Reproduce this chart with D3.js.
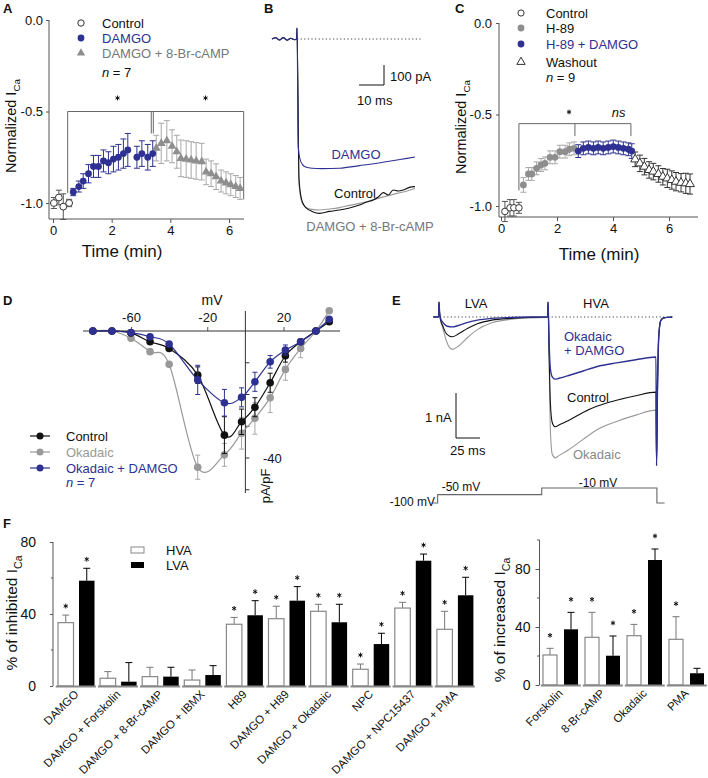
<!DOCTYPE html>
<html><head><meta charset="utf-8">
<script src="https://cdn.jsdelivr.net/npm/d3@7"></script>
<style>
body{margin:0;background:#fff;}
svg{display:block;font-family:"Liberation Sans",Arial,Helvetica,sans-serif;}
</style></head><body>
<svg id="fig" width="708" height="778"></svg>
<script>
// ================= DATA =================
// Panel A
const aXTicks=[0,2,4,6];
const aYTicks=[0,-0.5,-1.0];
const aCtrlT=[0.03,0.2,0.35,0.55];
const aCtrlV=[-1.0,-0.97,-1.02,-1.0];
const aCtrlE=[0.03,0.04,0.07,0.02];
const aDamT=[0.69,0.88,1.03,1.21,1.38,1.55,1.72,1.89,2.06,2.23,2.40,2.55,2.86,3.03,3.23,3.40];
const aDamV=[-0.94,-0.91,-0.88,-0.84,-0.80,-0.80,-0.77,-0.78,-0.76,-0.75,-0.73,-0.71,-0.75,-0.73,-0.75,-0.73];
const aDamE=[0.02,0.03,0.04,0.05,0.06,0.06,0.06,0.06,0.07,0.07,0.08,0.09,0.06,0.07,0.07,0.07];
const aCampT=[3.52,3.69,3.88,4.06,4.22,4.36,4.54,4.71,4.88,5.07,5.22,5.39,5.56,5.73,5.90,6.06,6.23,6.38];
const aCampV=[-0.70,-0.674,-0.66,-0.69,-0.72,-0.756,-0.76,-0.765,-0.77,-0.774,-0.83,-0.84,-0.856,-0.88,-0.89,-0.90,-0.91,-0.92];
const aCampE=[0.07,0.11,0.11,0.09,0.09,0.10,0.10,0.10,0.10,0.10,0.07,0.07,0.07,0.06,0.06,0.06,0.06,0.06];
// Panel B (ms, pA)
const bBaseT=[-10,-8.5,-7,-5.5,-4,-2.5,-1,-0.2];
const bBaseI=[0,6,-5,7,-6,4,-3,0];
const bDamT=[0,0.5,1.2,2.2,3.5,6,10,17,25,30,35,40,44,47.2];
const bDamI=[55,-540,-600,-628,-640,-646,-648,-646,-633,-625,-615,-605,-597,-590];
const bCtrlT=[0,0.8,1.8,3,4,6,9,13,17,21,25,28,30.5,32.5,34.5,36.5,38.5,40.5,42.5,45,47.2];
const bCtrlI=[55,-700,-800,-835,-848,-862,-872,-862,-855,-845,-830,-815,-805,-790,-768,-780,-755,-760,-755,-742,-738];
const bCampT=[0,0.8,1.8,3,4,6,9,13,17,21,25,30,35,40,44,47.2];
const bCampI=[55,-720,-810,-835,-845,-852,-855,-850,-843,-832,-822,-805,-788,-772,-760,-747];
// Panel C
const cXTicks=[0,2,4,6];
const cYTicks=[0,-0.5,-1.0];
const cCtrlT=[0.14,0.32,0.46,0.64];
const cCtrlV=[-1.03,-1.01,-1.01,-1.01];
const cCtrlE=[0.055,0.045,0.045,0.03];
const cH89T=[0.80,0.98,1.10,1.27,1.43,1.57,1.75,1.93,2.10,2.29,2.44,2.61];
const cH89V=[-0.885,-0.825,-0.825,-0.794,-0.776,-0.767,-0.734,-0.734,-0.703,-0.703,-0.69,-0.685];
const cH89E=[0.04,0.035,0.035,0.035,0.035,0.035,0.035,0.035,0.035,0.035,0.035,0.035];
const cDamT=[2.76,2.94,3.12,3.30,3.47,3.65,3.83,4.01,4.19,4.37,4.55,4.67];
const cDamV=[-0.70,-0.685,-0.68,-0.685,-0.68,-0.685,-0.68,-0.675,-0.68,-0.685,-0.69,-0.70];
const cDamE=[0.035,0.035,0.035,0.035,0.035,0.035,0.035,0.035,0.035,0.035,0.035,0.04];
const cWashT=[4.79,4.96,5.12,5.29,5.44,5.62,5.78,5.94,6.10,6.25,6.43,6.60,6.75];
const cWashV=[-0.745,-0.767,-0.785,-0.803,-0.812,-0.825,-0.84,-0.849,-0.858,-0.867,-0.873,-0.876,-0.88];
const cWashE=[0.04,0.045,0.045,0.045,0.045,0.045,0.045,0.05,0.05,0.05,0.05,0.055,0.055];
// Panel D (mV, pA/pF)
const dXTicks=[-60,-20,20];
const dYTicks=[-10,-20,-30,-40,-50];
const dV=[-80,-70,-60,-50,-40,-25,-11,-2,5,13,21,29,37,44];
const dCtrl=[0,0,-0.6,-3.4,-5.5,-13.9,-32.8,-28.6,-24,-16.3,-7.8,-3.4,0,2.9];
const dCtrlE=[0,0,0,0,0,2.6,5.8,4,3,3,2,0,0,0];
const dOka=[0,0,-2.3,-6.5,-10.5,-42.9,-39,-32.2,-27.5,-21,-12.1,-5.5,0,6.4];
const dOkaE=[0,0,0,0,0,3.8,3.6,5,5,4.7,3.4,2.9,0,0];
const dOkaDam=[0,0,-0.5,-1.8,-4.1,-15.4,-22.6,-20.9,-16,-9.7,-6,-3.4,0,3.7];
const dOkaDamE=[0,0,0,0,0,4.6,4.2,3,3,2,1.6,0,0,0];
// Panel E (ms, nA)
const eLvaT=[-6,-0.5,0,0.6,1.5,4,8,14,20,30,40,55,75,95,112.5];
const eLvaBlue=[0,0,0.33,0.1,-0.02,-0.12,-0.2,-0.22,-0.19,-0.12,-0.07,-0.03,-0.01,0,0];
const eLvaBlack=[0,0,0.33,0.1,-0.05,-0.2,-0.38,-0.44,-0.38,-0.25,-0.15,-0.07,-0.03,-0.01,0];
const eLvaGray=[0,0,0.33,0.1,-0.06,-0.25,-0.55,-0.72,-0.65,-0.45,-0.28,-0.13,-0.05,-0.02,-0.01];
const eHvaT=[113,113.6,114.6,116,118,121,125,135,150,165,185,205,226,226.6,227.6,229,231,234,243];
const eHvaBlue=[0,0.33,-0.5,-1.15,-1.33,-1.38,-1.36,-1.3,-1.2,-1.1,-1.02,-0.95,-0.89,-3.3,-1.6,-0.4,-0.08,-0.02,0];
const eHvaBlack=[0,0.33,-0.7,-1.9,-2.35,-2.44,-2.4,-2.3,-2.12,-1.98,-1.85,-1.75,-1.67,-3.3,-1.6,-0.4,-0.08,-0.02,0];
const eHvaGray=[-0.01,0.33,-0.8,-2.5,-3.05,-3.13,-3.08,-2.95,-2.72,-2.5,-2.32,-2.18,-2.07,-3.3,-1.6,-0.4,-0.08,-0.02,0];
const eProtT=[-7,-1.4,-1.4,107,107,227,227,235];
const eProtV=[-100,-100,-50,-50,-10,-10,-100,-100];
// Panel F
const fLCats=["DAMGO","DAMGO + Forskolin","DAMGO + 8-Br-cAMP","DAMGO + IBMX","H89","DAMGO + H89","DAMGO + Okadaic","NPC","DAMGO + NPC15437","DAMGO + PMA"];
const fLHva=[35.2,4.3,5.2,3.3,34.3,37.4,41.5,9.3,43.3,31.5];
const fLHvaE=[4.2,3.7,5.2,5.6,3.8,6.9,3.9,2.9,3.2,10];
const fLLva=[58.5,2.4,5.2,6.1,39.3,47.4,35.4,23.3,69.6,50.4];
const fLLvaE=[6.9,10.6,5.2,5.2,8.1,7.8,10,6,3.7,10];
const fLHvaSig=[1,0,0,0,1,1,1,1,1,1];
const fLLvaSig=[1,0,0,0,1,1,1,1,1,1];
const fLTicks=[0,40,80];
const fRCats=["Forskolin","8-Br-cAMP","Okadaic","PMA"];
const fRHva=[20.7,32.9,34,31.5];
const fRHvaE=[4.6,17.2,7.8,15.6];
const fRLva=[38.4,20.2,86.2,8.1];
const fRLvaE=[11.7,13.6,7.6,3.4];
const fRHvaSig=[1,1,1,1];
const fRLvaSig=[1,1,1,0];
const fRTicks=[0,40,80];

// ================= HELPERS =================
const BLUE="#2e3192", GRAY="#8e8e8e", LGRAY="#a8a8a8", AXC="#555";
const svg=d3.select("#fig");
svg.append("rect").attr("width",708).attr("height",778).attr("fill","#fff");

function styleAxis(sel,size){
  sel.attr("font-family",null).attr("font-size",size||13);
  sel.select(".domain").remove();
  sel.selectAll(".tick line").attr("stroke",AXC);
  sel.selectAll(".tick text").attr("fill","#111");
}
function txt(g,x,y,s,o){
  o=o||{};
  const t=g.append("text").attr("x",x).attr("y",y).attr("font-size",o.size||13).attr("fill",o.fill||"#111").text(s);
  if(o.anchor) t.attr("text-anchor",o.anchor);
  if(o.weight) t.attr("font-weight",o.weight);
  if(o.style) t.attr("font-style",o.style);
  return t;
}
function nLabel(g,x,y,n,fill){
  const t=g.append("text").attr("x",x).attr("y",y).attr("font-size",13).attr("fill",fill||"#111");
  t.append("tspan").attr("font-style","italic").text("n");
  t.append("tspan").text(" = "+n);
}
function yLabel(g,x,y,main,sub,size){
  const t=g.append("text").attr("transform",`translate(${x},${y}) rotate(-90)`).attr("text-anchor","middle").attr("font-size",size).attr("fill","#111");
  t.append("tspan").text(main);
  if(sub) t.append("tspan").text(sub).attr("font-size",size*0.68).attr("dy",size*0.3);
}
function line(g,x1,y1,x2,y2,c,w){
  return g.append("line").attr("x1",x1).attr("y1",y1).attr("x2",x2).attr("y2",y2).attr("stroke",c||AXC).attr("stroke-width",w||1);
}
function zip(ts,vs,es){return ts.map((t,i)=>({t:t,v:vs[i],e:es?es[i]:0}));}
function errBars(g,data,x,y,color,cap){
  const h=cap||2.5;
  const gg=g.append("g").attr("stroke",color).attr("stroke-width",1).attr("fill","none");
  data.filter(d=>d.e>0).forEach(d=>{
    const cx=x(d.t), y1=y(d.v-d.e), y2=y(d.v+d.e);
    gg.append("line").attr("x1",cx).attr("x2",cx).attr("y1",y1).attr("y2",y2);
    gg.append("line").attr("x1",cx-h).attr("x2",cx+h).attr("y1",y1).attr("y2",y1);
    gg.append("line").attr("x1",cx-h).attr("x2",cx+h).attr("y1",y2).attr("y2",y2);
  });
}
function dots(g,data,x,y,r,fill,stroke){
  g.append("g").selectAll("circle").data(data).join("circle")
    .attr("cx",d=>x(d.t)).attr("cy",d=>y(d.v)).attr("r",r)
    .attr("fill",fill).attr("stroke",stroke||"none").attr("stroke-width",1);
}
function tris(g,data,x,y,size,fill,stroke){
  const sym=d3.symbol().type(d3.symbolTriangle).size(size);
  g.append("g").selectAll("path").data(data).join("path")
    .attr("d",sym).attr("transform",d=>`translate(${x(d.t)},${y(d.v)})`)
    .attr("fill",fill).attr("stroke",stroke||"none").attr("stroke-width",1);
}
// small asterisk drawn as strokes (centre x,y)
function star(g,x,y){
  const r=2.4, p=[];
  for(let k=0;k<3;k++){
    const a=Math.PI/2+k*Math.PI/3, dx=r*Math.cos(a), dy=r*Math.sin(a);
    p.push(`M${x-dx},${y-dy}L${x+dx},${y+dy}`);
  }
  g.append("path").attr("d",p.join("")).attr("stroke","#111").attr("stroke-width",1).attr("fill","none");
}

// ================= PANEL A =================
{
  const g=svg.append("g");
  const x=d3.scaleLinear().domain([0,6]).range([53,229]);
  const y=d3.scaleLinear().domain([-1,0]).range([203,20]);
  line(g,49,219,244,219);
  line(g,49,20,49,219);
  g.append("g").attr("transform","translate(0,219)")
    .call(d3.axisBottom(x).tickValues(aXTicks).tickSize(4).tickPadding(3).tickFormat(d=>String(d))).call(styleAxis);
  g.append("g").attr("transform","translate(49,0)")
    .call(d3.axisLeft(y).tickValues(aYTicks).tickSize(3).tickPadding(3).tickFormat(d=>d.toFixed(1))).call(styleAxis);
  // bracket
  g.append("path").attr("d",`M${x(0.5)},${y(-0.945)}V${y(-0.5)}H${x(6.5)}V${y(-0.98)}`).attr("fill","none").attr("stroke","#666");
  line(g,x(3.35),y(-0.5),x(3.35),y(-0.62),"#666");
  line(g,x(3.42),y(-0.5),x(3.42),y(-0.62),"#666");
  star(g,x(2.2),98); star(g,x(5.2),98);
  const ctrl=zip(aCtrlT,aCtrlV,aCtrlE), dam=zip(aDamT,aDamV,aDamE), camp=zip(aCampT,aCampV,aCampE);
  errBars(g,camp,x,y,LGRAY,3);
  errBars(g,dam,x,y,BLUE,3);
  errBars(g,ctrl,x,y,"#555",3);
  tris(g,camp,x,y,34,GRAY);
  dots(g,dam,x,y,3.4,BLUE);
  dots(g,ctrl,x,y,3.4,"#fff","#333");
  // legend
  g.append("circle").attr("cx",81).attr("cy",23).attr("r",3.2).attr("fill","#fff").attr("stroke","#333");
  g.append("circle").attr("cx",81).attr("cy",38).attr("r",3.4).attr("fill",BLUE);
  g.append("path").attr("d",d3.symbol().type(d3.symbolTriangle).size(30)).attr("transform","translate(81,53)").attr("fill",GRAY);
  txt(g,102,28,"Control");
  txt(g,102,43,"DAMGO",{fill:BLUE});
  txt(g,102,58,"DAMGO + 8-Br-cAMP",{fill:"#777"});
  nLabel(g,102,77,7);
  txt(g,122,257,"Time (min)",{size:17,anchor:"middle"});
  yLabel(g,16,126,"Normalized I","Ca",14.5);
  txt(g,3,13,"A",{weight:"bold",size:13});
}

// ================= PANEL B =================
{
  const g=svg.append("g");
  const x=d3.scaleLinear().domain([0,10]).range([297,322]);
  const y=d3.scaleLinear().domain([0,-100]).range([39,59]);
  const ln=d3.line().x(d=>x(d.t)).y(d=>y(d.v)).curve(d3.curveMonotoneX);
  g.append("line").attr("x1",297).attr("x2",422).attr("y1",39).attr("y2",39).attr("stroke","#444").attr("stroke-dasharray","1.2,2.4");
  const base=zip(bBaseT,bBaseI);
  const tr=[[bCampT,bCampI,"#999"],[bCtrlT,bCtrlI,"#111"],[bDamT,bDamI,BLUE]];
  tr.forEach(([T,I,c])=>{
    g.append("path").attr("d",ln(base.concat(zip(T,I)))).attr("fill","none").attr("stroke",c).attr("stroke-width",1.1);
  });
  line(g,384,65,384,85,"#111"); line(g,359,85,384,85,"#111");
  txt(g,390,81,"100 pA");
  txt(g,357,105,"10 ms");
  txt(g,356,159,"DAMGO",{fill:BLUE,anchor:"middle"});
  txt(g,355,198,"Control",{anchor:"middle"});
  txt(g,370,231,"DAMGO + 8-Br-cAMP",{fill:"#777",anchor:"middle"});
  txt(g,264,13,"B",{weight:"bold",size:13});
}

// ================= PANEL C =================
{
  const g=svg.append("g");
  const x=d3.scaleLinear().domain([0,6]).range([501,669]);
  const y=d3.scaleLinear().domain([-1,0]).range([206,23]);
  line(g,499,217,698,217);
  line(g,499,23,499,217);
  g.append("g").attr("transform","translate(0,217)")
    .call(d3.axisBottom(x).tickValues(cXTicks).tickSize(4).tickPadding(3).tickFormat(d=>String(d))).call(styleAxis);
  g.append("g").attr("transform","translate(499,0)")
    .call(d3.axisLeft(y).tickValues(cYTicks).tickSize(3).tickPadding(4).tickFormat(d=>d.toFixed(1))).call(styleAxis);
  g.append("path").attr("d",`M${x(0.64)},${y(-0.915)}V${y(-0.55)}H${x(4.64)}V${y(-0.618)}`).attr("fill","none").attr("stroke","#666");
  line(g,x(2.64),y(-0.55),x(2.64),y(-0.618),"#666");
  star(g,x(2.43),112);
  txt(g,x(4.2),117,"ns",{style:"italic",anchor:"middle"});
  const ctrl=zip(cCtrlT,cCtrlV,cCtrlE), h89=zip(cH89T,cH89V,cH89E), dam=zip(cDamT,cDamV,cDamE), wash=zip(cWashT,cWashV,cWashE);
  errBars(g,ctrl,x,y,"#555",3);
  errBars(g,h89,x,y,LGRAY,3);
  errBars(g,dam,x,y,BLUE,3);
  errBars(g,wash,x,y,"#333",3);
  dots(g,ctrl,x,y,3.3,"#fff","#333");
  dots(g,h89,x,y,3.4,GRAY);
  dots(g,dam,x,y,3.4,BLUE);
  tris(g,wash,x,y,34,"#fff","#333");
  g.append("circle").attr("cx",521).attr("cy",13).attr("r",3.1).attr("fill","#fff").attr("stroke","#333");
  g.append("circle").attr("cx",521).attr("cy",28).attr("r",3.4).attr("fill",GRAY);
  g.append("circle").attr("cx",521).attr("cy",44).attr("r",3.4).attr("fill",BLUE);
  g.append("path").attr("d",d3.symbol().type(d3.symbolTriangle).size(30)).attr("transform","translate(521,62)").attr("fill","#fff").attr("stroke","#333");
  txt(g,546,18,"Control");
  txt(g,546,33,"H-89");
  txt(g,546,49,"H-89 + DAMGO",{fill:BLUE});
  txt(g,546,67,"Washout");
  nLabel(g,546,82,9);
  txt(g,599,260,"Time (min)",{size:17,anchor:"middle"});
  yLabel(g,466,127,"Normalized I","Ca",14.5);
  txt(g,455,13,"C",{weight:"bold",size:13});
}

// ================= PANEL D =================
{
  const g=svg.append("g");
  const x=d3.scaleLinear().domain([-60,20]).range([131,283.5]);
  const y=d3.scaleLinear().domain([0,-40]).range([331,458]);
  line(g,83,331,340,331,"#333");
  line(g,x(0),311,x(0),493,"#333");
  g.append("g").attr("transform","translate(0,331)")
    .call(d3.axisTop(x).tickValues(dXTicks).tickSize(4).tickPadding(5).tickFormat(d=>String(d))).call(styleAxis);
  dYTicks.forEach(v=>line(g,x(0),y(v),x(0)+4,y(v),"#333"));
  txt(g,263,463,"-40");
  txt(g,212,305,"mV",{size:14,anchor:"middle"});
  g.append("text").attr("transform",`translate(270,486) rotate(-90)`).attr("text-anchor","middle").attr("font-size",13).attr("fill","#111").text("pA/pF");
  const ln=d3.line().x(d=>x(d.t)).y(d=>y(d.v)).curve(d3.curveCardinal);
  const sets=[[dOka,dOkaE,"#999"],[dCtrl,dCtrlE,"#111"],[dOkaDam,dOkaDamE,BLUE]];
  sets.forEach(([V,E,c])=>{
    const data=zip(dV,V,E);
    errBars(g,data,x,y,c==="#999"?LGRAY:c,2.5);
    g.append("path").attr("d",ln(data)).attr("fill","none").attr("stroke",c).attr("stroke-width",1.2);
    dots(g,data,x,y,3.8,c);
  });
  [["Control","#111",436],["Okadaic","#999",452],["Okadaic + DAMGO",BLUE,468]].forEach(([s,c,yy])=>{
    line(g,30,yy,50,yy,c,1.2);
    g.append("circle").attr("cx",40).attr("cy",yy).attr("r",3.5).attr("fill",c);
    txt(g,66,yy+5,s,{fill:c});
  });
  nLabel(g,66,487,7,BLUE);
  txt(g,3,305,"D",{weight:"bold",size:13});
}

// ================= PANEL E =================
{
  const g=svg.append("g");
  const x=d3.scaleLinear().domain([0,25]).range([439,463]);
  const y=d3.scaleLinear().domain([0,-1]).range([317,362]);
  const vy=d3.scaleLinear().domain([-100,-10]).range([503,488]);
  g.append("line").attr("x1",440).attr("x2",672).attr("y1",317).attr("y2",317).attr("stroke","#444").attr("stroke-dasharray","1.2,2.4");
  const ln=d3.line().x(d=>x(d.t)).y(d=>y(d.v)).curve(d3.curveMonotoneX);
  [[eLvaGray,eHvaGray,"#999"],[eLvaBlack,eHvaBlack,"#111"],[eLvaBlue,eHvaBlue,BLUE]].forEach(([L,H,c])=>{
    const data=zip(eLvaT,L).concat(zip(eHvaT,H));
    g.append("path").attr("d",ln(data)).attr("fill","none").attr("stroke",c).attr("stroke-width",c===BLUE?1.4:1.1);
  });
  const prot=d3.line().x(d=>x(d.t)).y(d=>vy(d.v));
  g.append("path").attr("d",prot(zip(eProtT,eProtV))).attr("fill","none").attr("stroke","#666").attr("stroke-width",1.1);
  txt(g,435,506,"-100 mV",{size:12,anchor:"end"});
  txt(g,461,491,"-50 mV",{size:12,anchor:"middle"});
  txt(g,598,487,"-10 mV",{size:12,anchor:"middle"});
  line(g,456,393,456,438,"#111"); line(g,456,438,480,438,"#111");
  txt(g,425,422,"1 nA");
  txt(g,450,455,"25 ms");
  txt(g,476,308,"LVA",{anchor:"middle"});
  txt(g,596,308,"HVA",{anchor:"middle"});
  txt(g,564,341,"Okadaic",{fill:BLUE});
  txt(g,564,355,"+ DAMGO",{fill:BLUE});
  txt(g,567,402,"Control");
  txt(g,573,459,"Okadaic",{fill:"#888"});
  txt(g,392,305,"E",{weight:"bold",size:13});
}

// ================= PANEL F =================
function barPanel(g,cats,hva,hvaE,lva,lvaE,hSig,lSig,y,start,pitch,bw,off1,off2,starOff){
  cats.forEach((c,i)=>{
    const s=start+i*pitch;
    const xw=s+off1, xb=s+off2;
    [[xw,hva[i],hvaE[i],"#777",hSig[i]],[xb,lva[i],lvaE[i],"#000",lSig[i]]].forEach(([bx,v,e,col,sig])=>{
      const cx=bx+bw/2;
      line(g,cx,y(v),cx,y(v+e),col,1);
      line(g,cx-3.5,y(v+e),cx+3.5,y(v+e),col,1);
      if(sig) star(g,cx,y(v+e)-starOff);
    });
    g.append("rect").attr("x",xw).attr("y",y(hva[i])).attr("width",bw).attr("height",y(0)-y(hva[i])).attr("fill","#fff").attr("stroke","#888").attr("stroke-width",1.2);
    g.append("rect").attr("x",xb).attr("y",y(lva[i])).attr("width",bw).attr("height",y(0)-y(lva[i])).attr("fill","#000");
    line(g,s+0.8,y(0)+0.5,s+pitch-1.2,y(0)+0.5,"#888",2);
    const cx=(xw+xb+bw)/2;
    g.append("text").attr("transform",`translate(${cx+3},${y(0)+9}) rotate(-45)`).attr("text-anchor","end").attr("font-size",11.5).attr("fill","#111").text(c);
  });
}
{
  const g=svg.append("g");
  const y=d3.scaleLinear().domain([0,80]).range([686,542]);
  line(g,53,542,53,686);
  g.append("g").attr("transform","translate(53,0)")
    .call(d3.axisLeft(y).tickValues(fLTicks).tickSize(3).tickPadding(14).tickFormat(d=>String(d))).call(s=>styleAxis(s,14));
  [20,60].forEach(v=>line(g,51,y(v),53,y(v)));
  barPanel(g,fLCats,fLHva,fLHvaE,fLLva,fLLvaE,fLHvaSig,fLLvaSig,y,55,42.1,15.5,3,24,9);
  yLabel(g,17,613,"% of inhibited I","Ca",15.5);
  g.append("rect").attr("x",131).attr("y",547).attr("width",13).attr("height",6).attr("fill","#fff").attr("stroke","#888");
  g.append("rect").attr("x",131).attr("y",562).attr("width",13).attr("height",6).attr("fill","#000");
  txt(g,166,555,"HVA");
  txt(g,166,570,"LVA");
  txt(g,3,528,"F",{weight:"bold",size:13});
}
{
  const g=svg.append("g");
  const y=d3.scaleLinear().domain([0,80]).range([685,569]);
  line(g,539.5,y(100),539.5,685);
  g.append("g").attr("transform","translate(539.5,0)")
    .call(d3.axisLeft(y).tickValues(fRTicks).tickSize(4).tickPadding(5).tickFormat(d=>String(d))).call(s=>styleAxis(s,14));
  [20,60,100].forEach(v=>line(g,537,y(v),539.5,y(v)));
  barPanel(g,fRCats,fRHva,fRHvaE,fRLva,fRLvaE,fRHvaSig,fRLvaSig,y,540,42,14,3,24,13);
  yLabel(g,505,620,"% of increased I","Ca",15.5);
}
</script></body></html>
